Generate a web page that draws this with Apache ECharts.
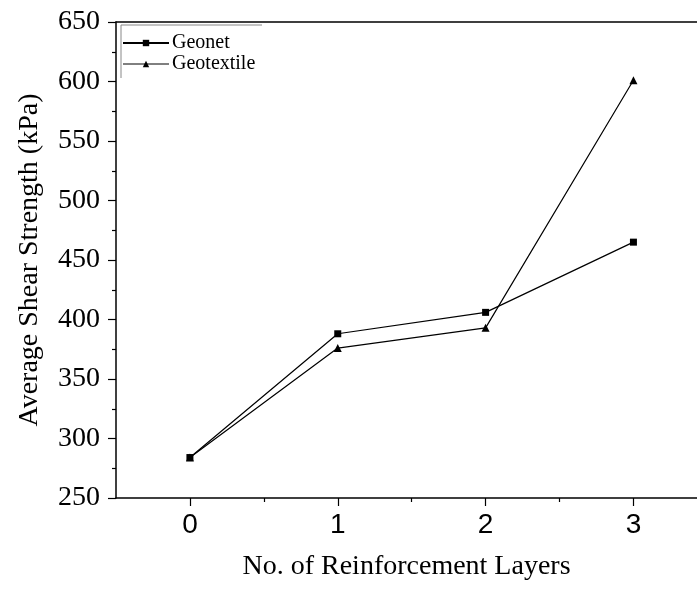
<!DOCTYPE html>
<html>
<head>
<meta charset="utf-8">
<script src="https://cdn.jsdelivr.net/npm/echarts@6/dist/echarts.min.js"></script>
<style>
html,body{margin:0;padding:0;background:#fff;}
#chart{width:697px;height:590px;}
</style>
</head>
<body>
<div id="chart"></div>
<script>
// Data
const layers = [0, 1, 2, 3];
const geonet = [284, 388, 406, 465];
const geotextile = [284, 376, 393, 601];
const xTickLabels = [0, 1, 2, 3];
const xMinorTicks = [0.5, 1.5, 2.5];
const seriesNames = ['Geonet', 'Geotextile'];

const chart = echarts.init(document.getElementById('chart'), null, {renderer: 'canvas'});
const serif = '"Liberation Serif", "Times New Roman", serif';
const sans = '"Liberation Sans", Arial, sans-serif';
const X_MIN = -0.5, X_MAX = 3.43;

const option = {
  backgroundColor: '#fff',
  animation: false,
  grid: {
    left: 116, top: 22, right: 0, bottom: 92,
    show: false
  },
  legend: {
    orient: 'vertical',
    left: 122, top: 33,
    padding: 0,
    itemGap: 1,
    itemWidth: 46, itemHeight: 8,
    textStyle: {fontFamily: serif, fontSize: 20, color: '#000', padding: [0,0,0,-2]},
    data: [
      {name: seriesNames[0], lineStyle: {width: 2}},
      {name: seriesNames[1], lineStyle: {width: 1}}
    ]
  },
  xAxis: [{
    type: 'value', min: X_MIN, max: X_MAX,
    name: 'No. of Reinforcement Layers', nameLocation: 'middle', nameGap: 55,
    nameTextStyle: {fontFamily: serif, fontSize: 28, color: '#000'},
    axisLine: {show: true, onZero: false, lineStyle: {color: '#000', width: 1.5}},
    axisTick: {show: true, customValues: xTickLabels, length: 8, lineStyle: {color: '#000', width: 1.2}},
    axisLabel: {customValues: xTickLabels, fontFamily: sans, fontSize: 28, color: '#000', margin: 13},
    splitLine: {show: false}
  }, {
    type: 'value', min: X_MIN, max: X_MAX, position: 'bottom', offset: 0,
    axisLine: {show: false, onZero: false},
    axisTick: {show: true, customValues: xMinorTicks, length: 4, lineStyle: {color: '#000', width: 1.2}},
    axisLabel: {show: false},
    splitLine: {show: false}
  }, {
    type: 'value', min: X_MIN, max: X_MAX, position: 'top', offset: 0,
    axisLine: {show: true, onZero: false, lineStyle: {color: '#000', width: 1.5}},
    axisTick: {show: false},
    axisLabel: {show: false},
    splitLine: {show: false}
  }],
  yAxis: {
    type: 'value', min: 250, max: 650, interval: 50,
    name: 'Average Shear Strength (kPa)', nameLocation: 'middle', nameGap: 72, nameRotate: 90,
    nameTextStyle: {fontFamily: serif, fontSize: 28, color: '#000'},
    axisLine: {show: true, onZero: false, lineStyle: {color: '#000', width: 1.5}},
    axisTick: {show: true, length: 8, lineStyle: {color: '#000', width: 1.2}},
    minorTick: {show: true, splitNumber: 2, length: 4, lineStyle: {color: '#000', width: 1.2}},
    axisLabel: {fontFamily: serif, fontSize: 28, color: '#000', margin: 16},
    splitLine: {show: false}
  },
  series: [{
    name: seriesNames[0], type: 'line',
    data: layers.map((x, i) => [x, geonet[i]]),
    symbol: 'rect', symbolSize: 7,
    lineStyle: {color: '#000', width: 1.2},
    itemStyle: {color: '#000'},
    z: 3
  }, {
    name: seriesNames[1], type: 'line',
    data: layers.map((x, i) => [x, geotextile[i]]),
    symbol: 'triangle', symbolSize: 8,
    lineStyle: {color: '#000', width: 1.2},
    itemStyle: {color: '#000'},
    z: 3
  }],
  graphic: [{
    type: 'polyline',
    shape: {points: [[121, 78], [121, 25], [262, 25]]},
    style: {stroke: '#888', lineWidth: 1, fill: null},
    silent: true
  }]
};
chart.setOption(option);
</script>
</body>
</html>
